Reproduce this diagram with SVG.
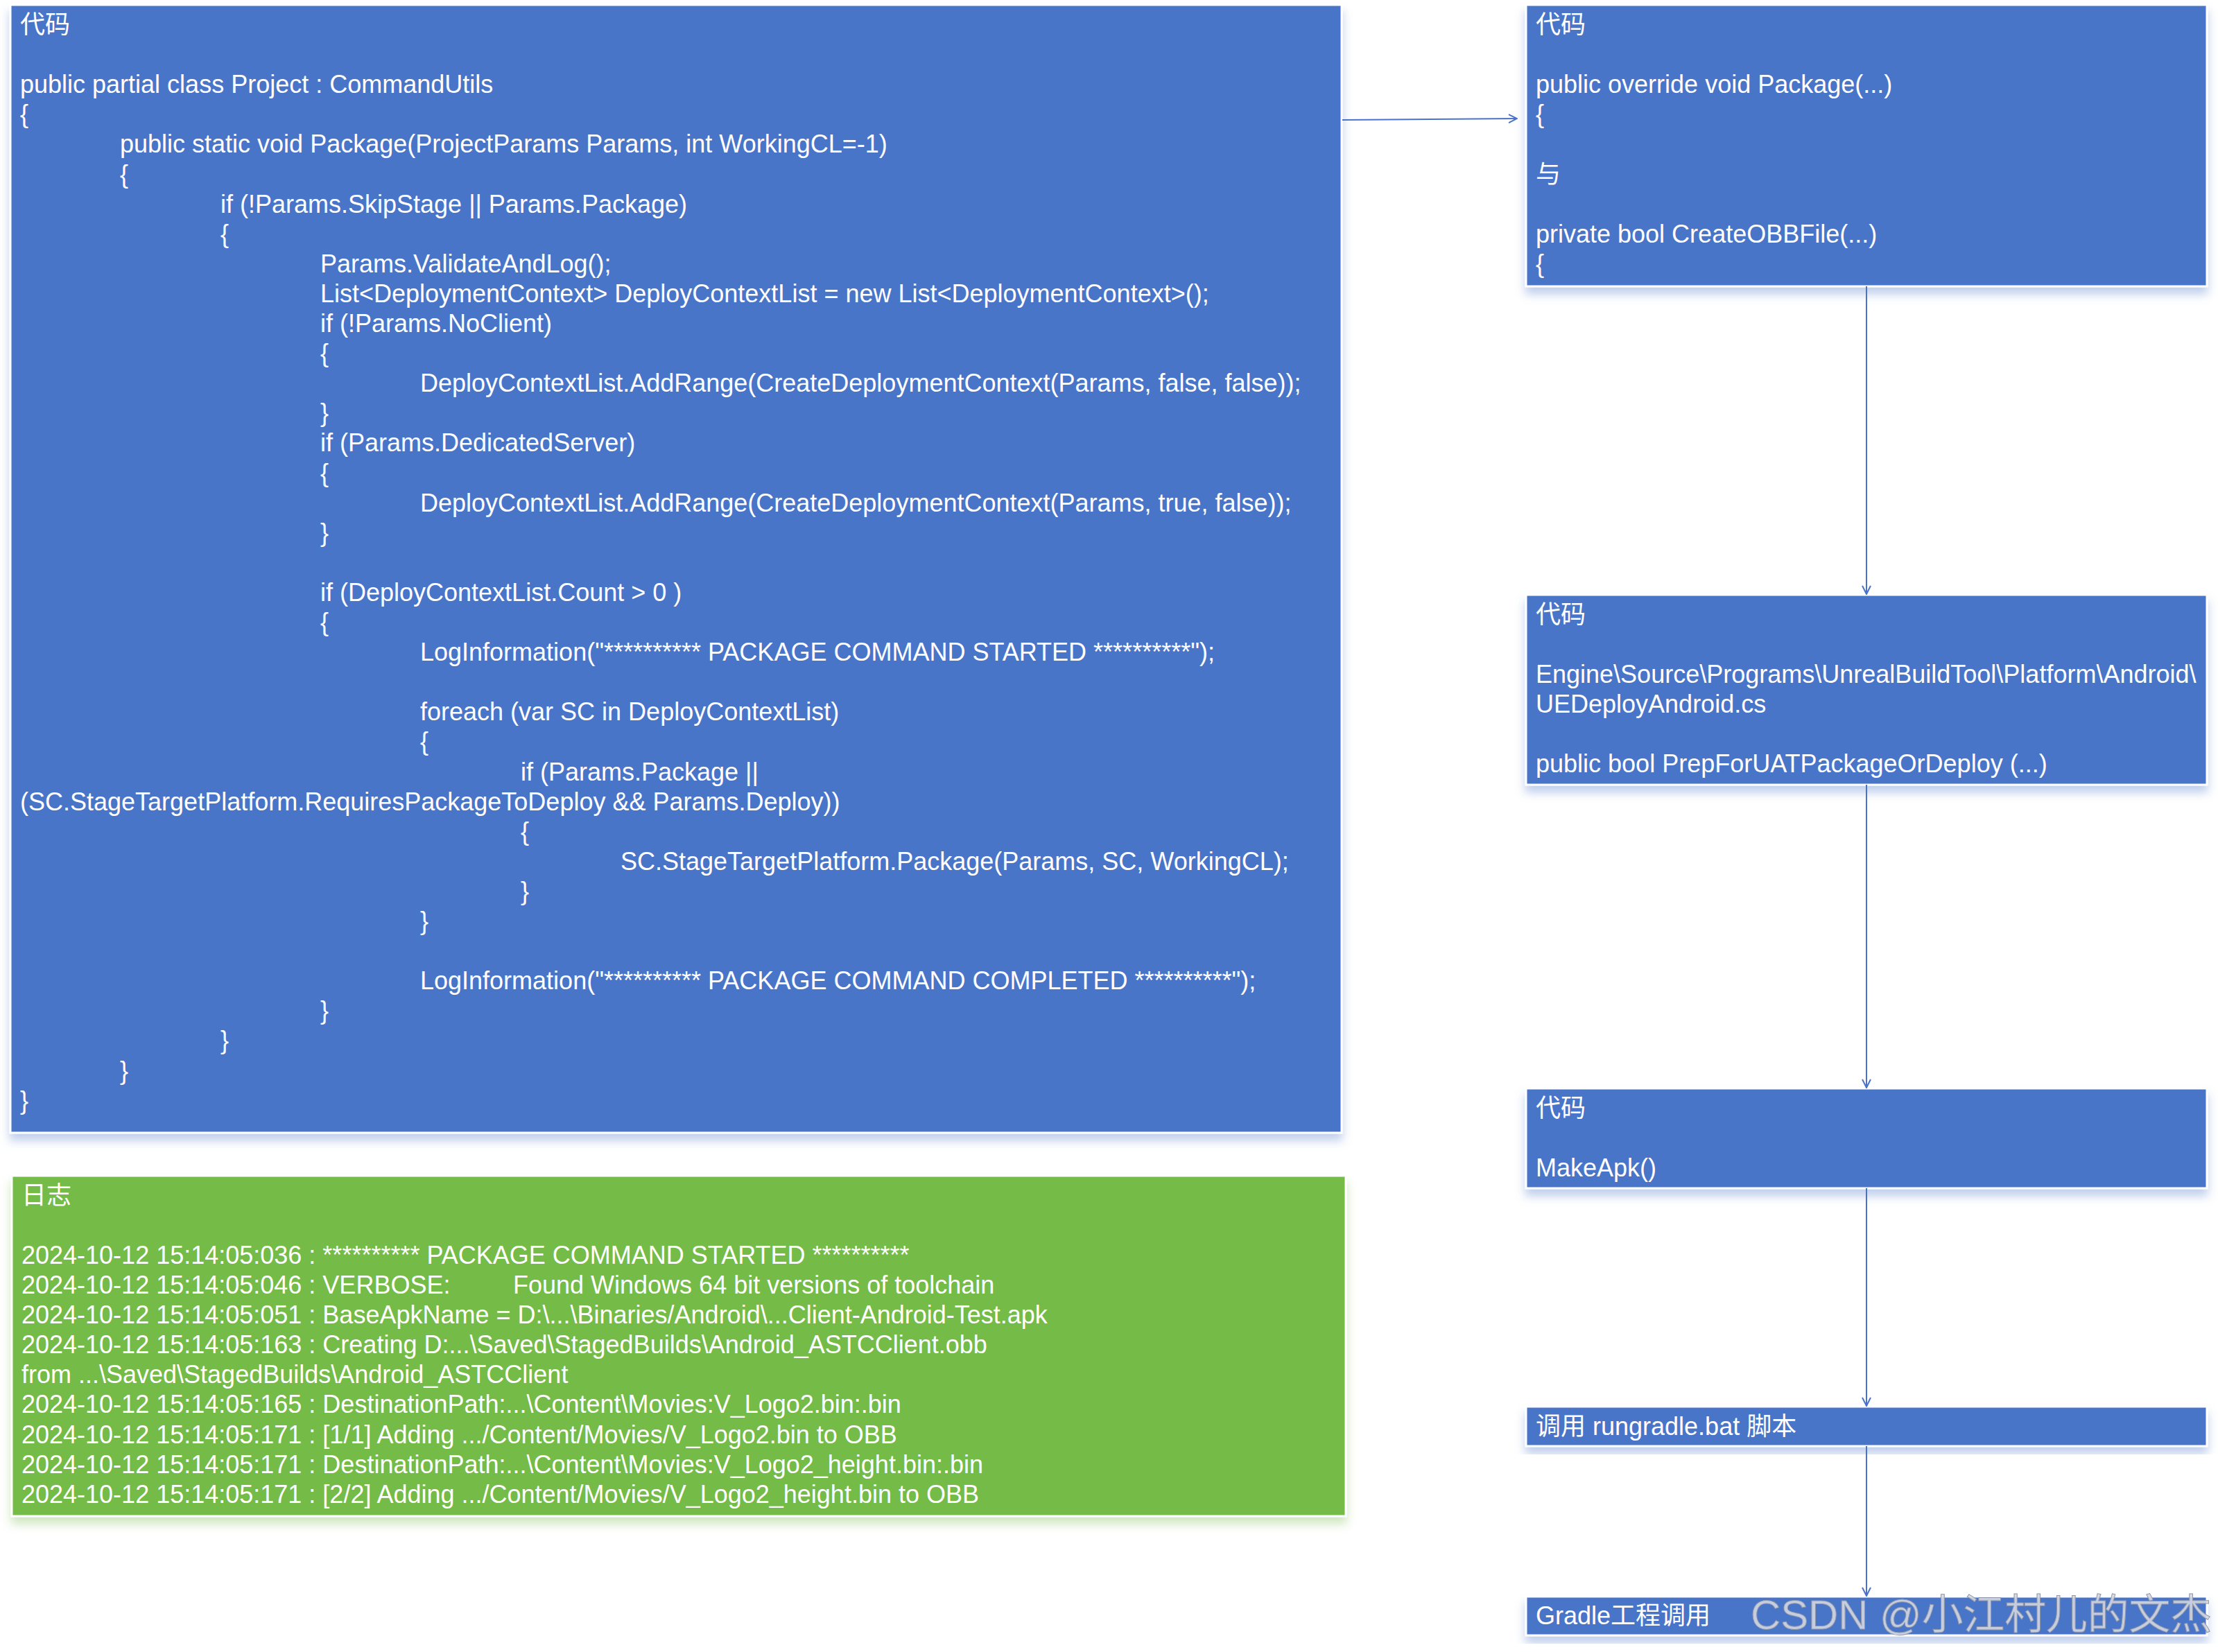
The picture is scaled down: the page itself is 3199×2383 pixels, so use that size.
<svg xmlns="http://www.w3.org/2000/svg" width="3199" height="2383" viewBox="0 0 3199 2383">
<style>
  text { font-family: "Liberation Sans", "Noto Sans CJK SC", sans-serif; font-size: 36px; fill: #ffffff; }
  .box { fill: #4A75C9; stroke: #ffffff; stroke-width: 3; }
  .gbox { fill: #74BB47; stroke: #ffffff; stroke-width: 3; }
  .conn { stroke: #4A72C8; stroke-width: 2; fill: none; }
  .wm { font-size: 60px; fill: #D4D7E0; fill-opacity: 0.9; stroke: #8F96A8; stroke-width: 1; }
</style>
<defs>
  <filter id="shB" x="-5%" y="-10%" width="110%" height="130%">
    <feDropShadow dx="0" dy="10" stdDeviation="7" flood-color="#4A75C9" flood-opacity="0.35"/>
  </filter>
  <filter id="shG" x="-5%" y="-10%" width="110%" height="130%">
    <feDropShadow dx="0" dy="10" stdDeviation="7" flood-color="#74BB47" flood-opacity="0.35"/>
  </filter>
  <marker id="arr" viewBox="0 0 14 14" refX="13" refY="7" markerWidth="14" markerHeight="14" markerUnits="userSpaceOnUse" orient="auto">
    <path d="M1,1 L13,7 L1,13" fill="none" stroke="#4A72C8" stroke-width="2"/>
  </marker>
</defs>
<rect width="3199" height="2383" fill="#ffffff"/>

<g id="code-main">
  <rect class="box" x="15" y="7" width="1920" height="1627" filter="url(#shB)"/>
  <text x="29" y="48">代码</text>
  <text x="29" y="134.2">public partial class Project : CommandUtils</text>
  <text x="29" y="177.3">{</text>
  <text x="173" y="220.4">public static void Package(ProjectParams Params, int WorkingCL=-1)</text>
  <text x="173" y="263.5">{</text>
  <text x="318" y="306.6">if (!Params.SkipStage || Params.Package)</text>
  <text x="318" y="349.7">{</text>
  <text x="462" y="392.8">Params.ValidateAndLog();</text>
  <text x="462" y="435.9">List&lt;DeploymentContext&gt; DeployContextList = new List&lt;DeploymentContext&gt;();</text>
  <text x="462" y="479">if (!Params.NoClient)</text>
  <text x="462" y="522.1">{</text>
  <text x="606" y="565.2">DeployContextList.AddRange(CreateDeploymentContext(Params, false, false));</text>
  <text x="462" y="608.3">}</text>
  <text x="462" y="651.4">if (Params.DedicatedServer)</text>
  <text x="462" y="694.5">{</text>
  <text x="606" y="737.6">DeployContextList.AddRange(CreateDeploymentContext(Params, true, false));</text>
  <text x="462" y="780.7">}</text>
  <text x="462" y="866.9">if (DeployContextList.Count &gt; 0 )</text>
  <text x="462" y="910">{</text>
  <text x="606" y="953.1">LogInformation("********** PACKAGE COMMAND STARTED **********");</text>
  <text x="606" y="1039.3">foreach (var SC in DeployContextList)</text>
  <text x="606" y="1082.4">{</text>
  <text x="751" y="1125.5">if (Params.Package ||</text>
  <text x="29" y="1168.6">(SC.StageTargetPlatform.RequiresPackageToDeploy &amp;&amp; Params.Deploy))</text>
  <text x="751" y="1211.7">{</text>
  <text x="895" y="1254.8">SC.StageTargetPlatform.Package(Params, SC, WorkingCL);</text>
  <text x="751" y="1297.9">}</text>
  <text x="606" y="1341">}</text>
  <text x="606" y="1427.2">LogInformation("********** PACKAGE COMMAND COMPLETED **********");</text>
  <text x="462" y="1470.3">}</text>
  <text x="318" y="1513.4">}</text>
  <text x="173" y="1556.5">}</text>
  <text x="29" y="1599.6">}</text>
</g>

<g id="log">
  <rect class="gbox" x="17" y="1696" width="1924" height="491" filter="url(#shG)"/>
  <text x="31" y="1737">日志</text>
  <text x="31" y="1823">2024-10-12 15:14:05:036 : ********** PACKAGE COMMAND STARTED **********</text>
  <text x="31" y="1866">2024-10-12 15:14:05:046 : VERBOSE:</text>
  <text x="740" y="1866">Found Windows 64 bit versions of toolchain</text>
  <text x="31" y="1909">2024-10-12 15:14:05:051 : BaseApkName = D:\...\Binaries/Android\...Client-Android-Test.apk</text>
  <text x="31" y="1952">2024-10-12 15:14:05:163 : Creating D:...\Saved\StagedBuilds\Android_ASTCClient.obb</text>
  <text x="31" y="1995">from ...\Saved\StagedBuilds\Android_ASTCClient</text>
  <text x="31" y="2038">2024-10-12 15:14:05:165 : DestinationPath:...\Content\Movies:V_Logo2.bin:.bin</text>
  <text x="31" y="2082">2024-10-12 15:14:05:171 : [1/1] Adding .../Content/Movies/V_Logo2.bin to OBB</text>
  <text x="31" y="2125">2024-10-12 15:14:05:171 : DestinationPath:...\Content\Movies:V_Logo2_height.bin:.bin</text>
  <text x="31" y="2168">2024-10-12 15:14:05:171 : [2/2] Adding .../Content/Movies/V_Logo2_height.bin to OBB</text>
</g>

<g id="node-package">
  <rect class="box" x="2201" y="7" width="982" height="406" filter="url(#shB)"/>
  <text x="2215" y="48">代码</text>
  <text x="2215" y="134">public override void Package(...)</text>
  <text x="2215" y="177">{</text>
  <text x="2215" y="263.5">与</text>
  <text x="2215" y="350">private bool CreateOBBFile(...)</text>
  <text x="2215" y="393">{</text>
</g>

<g id="node-deploy">
  <rect class="box" x="2201" y="858" width="982" height="274" filter="url(#shB)"/>
  <text x="2215" y="899">代码</text>
  <text x="2215" y="985">Engine\Source\Programs\UnrealBuildTool\Platform\Android\</text>
  <text x="2215" y="1028">UEDeployAndroid.cs</text>
  <text x="2215" y="1114">public bool PrepForUATPackageOrDeploy (...)</text>
</g>

<g id="node-makeapk">
  <rect class="box" x="2201" y="1570" width="982" height="144" filter="url(#shB)"/>
  <text x="2215" y="1611">代码</text>
  <text x="2215" y="1697">MakeApk()</text>
</g>

<g id="node-rungradle">
  <rect class="box" x="2201" y="2029" width="982" height="57" filter="url(#shB)"/>
  <text x="2215" y="2070">调用 rungradle.bat 脚本</text>
</g>

<g id="node-gradle">
  <rect class="box" x="2201" y="2303" width="982" height="56" filter="url(#shB)"/>
  <text x="2215" y="2343">Gradle工程调用</text>
</g>

<g id="connectors">
  <path class="conn" d="M1936,173 L2188,171" marker-end="url(#arr)"/>
  <path class="conn" d="M2692,413 L2692,857" marker-end="url(#arr)"/>
  <path class="conn" d="M2692,1132 L2692,1569" marker-end="url(#arr)"/>
  <path class="conn" d="M2692,1714 L2692,2028" marker-end="url(#arr)"/>
  <path class="conn" d="M2692,2086 L2692,2302" marker-end="url(#arr)"/>
</g>

<text class="wm" x="2525" y="2350" textLength="665" lengthAdjust="spacingAndGlyphs">CSDN @小江村儿的文杰</text>
</svg>
